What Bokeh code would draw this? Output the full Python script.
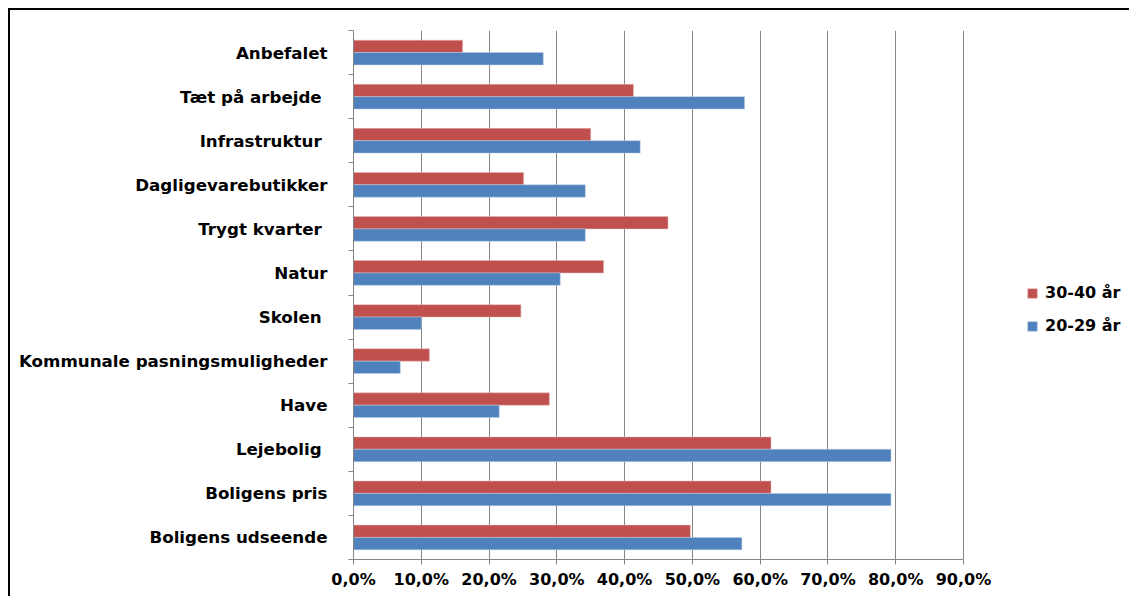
from bokeh.plotting import figure
from bokeh.models import Range1d, FixedTicker, Legend, LegendItem, ColumnDataSource
from bokeh.embed import file_html
from bokeh.resources import INLINE

# ---- data (top to bottom) ----
categories = ["Anbefalet", "Tæt på arbejde ", "Infrastruktur ", "Dagligevarebutikker",
              "Trygt kvarter ", "Natur", "Skolen ", "Kommunale pasningsmuligheder",
              "Have", "Lejebolig ", "Boligens pris", "Boligens udseende"]
age_30_40 = [16.1, 41.3, 35.0, 25.1, 46.4, 36.9, 24.7, 11.2, 28.9, 61.6, 61.6, 49.7]
age_20_29 = [28.0, 57.7, 42.3, 34.2, 34.2, 30.5, 10.0, 6.9, 21.5, 79.3, 79.3, 57.3]
series_names = ["30-40 år", "20-29 år"]
x_ticks = [0, 10, 20, 30, 40, 50, 60, 70, 80, 90]
x_tick_labels = ["0,0%", "10,0%", "20,0%", "30,0%", "40,0%", "50,0%", "60,0%", "70,0%", "80,0%", "90,0%"]

RED = "#C0504D"
BLUE = "#4F81BD"
GRID = "#868686"
FONT = "DejaVu Sans"

n = len(categories)
centers = [n - 0.5 - i for i in range(n)]
bar_h = 0.28

# layout: the value axis (0..90) spans 610 px; the frame continues to the right for the legend
W, H = 1121, 588
left_b, right_b, top_b, bottom_b = 343, 10, 20, 39
axis_px = 610
frame_w = W - left_b - right_b
x_end = x_ticks[-1] * frame_w / axis_px

src = ColumnDataSource(dict(
    y_red=[c + bar_h / 2 for c in centers],
    y_blue=[c - bar_h / 2 for c in centers],
    red=age_30_40, blue=age_20_29,
))

p = figure(width=W, height=H, output_backend="svg", toolbar_location=None,
           x_range=Range1d(0, x_end), y_range=Range1d(0, n),
           min_border_left=left_b, min_border_right=right_b,
           min_border_top=top_b, min_border_bottom=bottom_b)
p.outline_line_color = None
p.background_fill_color = "white"
p.border_fill_color = "white"
p.styles = {"border-top": "2px solid #000", "border-left": "2px solid #000",
            "position": "relative", "left": "8px", "top": "8px"}

r_red = p.hbar(y="y_red", right="red", left=0, height=bar_h, source=src,
               fill_color=RED, line_color="#E6B9B8", line_width=0.5)
r_blue = p.hbar(y="y_blue", right="blue", left=0, height=bar_h, source=src,
                fill_color=BLUE, line_color="#B9CDE5", line_width=0.5)

# x axis
p.xaxis.bounds = (x_ticks[0], x_ticks[-1])
p.xaxis.ticker = FixedTicker(ticks=x_ticks)
p.xaxis.major_label_overrides = {t: l for t, l in zip(x_ticks, x_tick_labels)}
p.xaxis.axis_line_color = GRID
p.xaxis.major_tick_line_color = GRID
p.xaxis.major_tick_out = 5
p.xaxis.major_tick_in = 0
p.xaxis.minor_tick_line_color = None
p.xaxis.major_label_text_font = FONT
p.xaxis.major_label_text_font_style = "bold"
p.xaxis.major_label_text_font_size = "16px"
p.xaxis.major_label_text_color = "#000000"
p.xaxis.major_label_standoff = 5

# y axis (labels at centers, ticks at boundaries)
p.yaxis.ticker = FixedTicker(ticks=centers, minor_ticks=list(range(n + 1)))
p.yaxis.major_label_overrides = {c: l for c, l in zip(centers, categories)}
p.yaxis.axis_line_color = GRID
p.yaxis.major_tick_line_color = None
p.yaxis.major_tick_out = 0
p.yaxis.major_tick_in = 0
p.yaxis.minor_tick_line_color = GRID
p.yaxis.minor_tick_out = 5
p.yaxis.minor_tick_in = 0
p.yaxis.major_label_text_font = FONT
p.yaxis.major_label_text_font_style = "bold"
p.yaxis.major_label_text_font_size = "16.7px"
p.yaxis.major_label_text_color = "#000000"
p.yaxis.major_label_standoff = 21

# grid
p.xgrid.ticker = FixedTicker(ticks=x_ticks[1:])
p.xgrid.grid_line_color = GRID
p.ygrid.grid_line_color = None

legend = Legend(items=[LegendItem(label=series_names[0], renderers=[r_red]),
                       LegendItem(label=series_names[1], renderers=[r_blue])],
                location=(673, 224))
legend.background_fill_alpha = 0
legend.border_line_color = None
legend.padding = 0
legend.margin = 0
legend.glyph_width = 12
legend.glyph_height = 12
legend.label_standoff = 7
legend.spacing = 14
legend.label_text_font = FONT
legend.label_text_font_style = "bold"
legend.label_text_font_size = "16px"
legend.label_text_color = "#000000"
p.add_layout(legend, "center")

open("out.html", "w").write(file_html(p, INLINE))
